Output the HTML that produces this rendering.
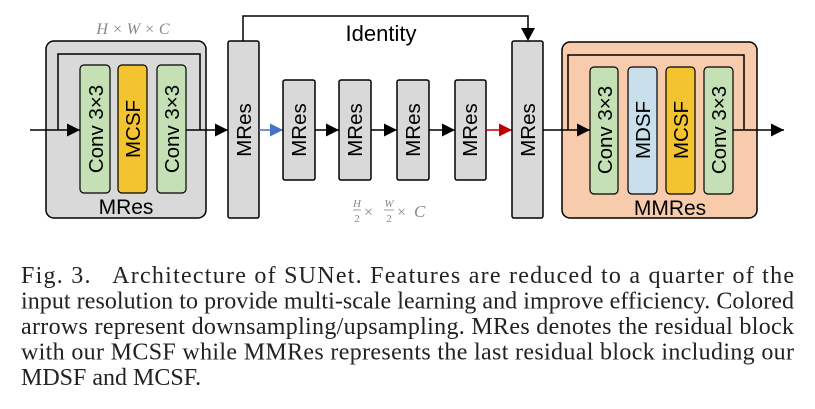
<!DOCTYPE html>
<html><head><meta charset="utf-8"><style>
html,body{margin:0;padding:0;background:#fff;}
body{width:815px;height:409px;position:relative;overflow:hidden;}
svg{position:absolute;left:0;top:0;}
</style></head><body>
<svg width="815" height="409" viewBox="0 0 815 409" font-family="Liberation Sans, sans-serif">
<defs>
<marker id="ab" markerWidth="14" markerHeight="14" refX="13" refY="6.5" orient="auto" markerUnits="userSpaceOnUse"><path d="M0,0 L13,6.5 L0,13z" fill="#000"/></marker>
<marker id="abl" markerWidth="14" markerHeight="14" refX="13" refY="6.5" orient="auto" markerUnits="userSpaceOnUse"><path d="M0,0 L13,6.5 L0,13z" fill="#4472c4"/></marker>
<marker id="ar" markerWidth="14" markerHeight="14" refX="13" refY="6.5" orient="auto" markerUnits="userSpaceOnUse"><path d="M0,0 L13,6.5 L0,13z" fill="#c00000"/></marker>
</defs>
<rect x="46" y="41" width="160" height="177" rx="8" fill="#d9d9d9" stroke="#000" stroke-width="1.5"/>
<polyline points="58,130 58,54 200,54 200,130" fill="none" stroke="#000" stroke-width="1.5"/>
<line x1="30" y1="130" x2="80" y2="130" stroke="#000" stroke-width="1.5" marker-end="url(#ab)"/>
<rect x="80" y="65" width="30" height="128" rx="4" fill="#c5e0b4" stroke="#000" stroke-width="1.2"/>
<rect x="118" y="65" width="29" height="128" rx="4" fill="#f4c430" stroke="#000" stroke-width="1.2"/>
<rect x="157" y="65" width="29" height="128" rx="4" fill="#c5e0b4" stroke="#000" stroke-width="1.2"/>
<g font-size="20.5" text-anchor="middle">
<text transform="translate(103,129) rotate(-90)">Conv 3×3</text>
<text transform="translate(140,129) rotate(-90)">MCSF</text>
<text transform="translate(179,129) rotate(-90)">Conv 3×3</text>
</g>
<text x="126" y="214" text-anchor="middle" font-size="21">MRes</text>
<line x1="186" y1="130" x2="228" y2="130" stroke="#000" stroke-width="1.5" marker-end="url(#ab)"/>
<text x="133" y="34" text-anchor="middle" font-size="16" font-style="italic" fill="#888" font-family="Liberation Serif, serif">H × W × C</text>
<rect x="228" y="41" width="31" height="177" rx="2" fill="#d9d9d9" stroke="#000" stroke-width="1.5"/>
<text transform="translate(251,130) rotate(-90)" text-anchor="middle" font-size="20.5">MRes</text>
<polyline points="243,41 243,16 528,16 528,30" fill="none" stroke="#000" stroke-width="1.5"/>
<path d="M521,28 L535,28 L528,41z" fill="#000"/>
<text x="381" y="41" text-anchor="middle" font-size="22">Identity</text>
<line x1="259" y1="130" x2="283" y2="130" stroke="#4472c4" stroke-width="1.5" marker-end="url(#abl)"/>
<g stroke="#000" stroke-width="1.5" fill="#d9d9d9">
<rect x="283" y="80" width="32" height="100" rx="2"/>
<rect x="339" y="80" width="32" height="100" rx="2"/>
<rect x="397" y="80" width="32" height="100" rx="2"/>
<rect x="455" y="80" width="31" height="100" rx="2"/>
</g>
<g font-size="20.5" text-anchor="middle">
<text transform="translate(306,130) rotate(-90)">MRes</text>
<text transform="translate(362,130) rotate(-90)">MRes</text>
<text transform="translate(420,130) rotate(-90)">MRes</text>
<text transform="translate(477,130) rotate(-90)">MRes</text>
</g>
<line x1="315" y1="130" x2="339" y2="130" stroke="#000" stroke-width="1.5" marker-end="url(#ab)"/>
<line x1="371" y1="130" x2="397" y2="130" stroke="#000" stroke-width="1.5" marker-end="url(#ab)"/>
<line x1="429" y1="130" x2="455" y2="130" stroke="#000" stroke-width="1.5" marker-end="url(#ab)"/>
<line x1="486" y1="130" x2="512" y2="130" stroke="#c00000" stroke-width="1.5" marker-end="url(#ar)"/>
<g fill="#888" font-family="Liberation Serif, serif" font-style="italic">
<text x="357" y="207" font-size="11" text-anchor="middle">H</text>
<line x1="353" y1="210" x2="361" y2="210" stroke="#888" stroke-width="0.8"/>
<text x="357" y="222" font-size="11" text-anchor="middle" font-style="normal">2</text>
<text x="364" y="217" font-size="16" font-style="normal">×</text>
<text x="389" y="207" font-size="11" text-anchor="middle">W</text>
<line x1="384" y1="210" x2="394" y2="210" stroke="#888" stroke-width="0.8"/>
<text x="389" y="222" font-size="11" text-anchor="middle" font-style="normal">2</text>
<text x="397" y="217" font-size="16" font-style="normal">×</text>
<text x="414" y="217" font-size="17">C</text>
</g>
<rect x="512" y="41" width="31" height="177" rx="2" fill="#d9d9d9" stroke="#000" stroke-width="1.5"/>
<text transform="translate(535,130) rotate(-90)" text-anchor="middle" font-size="20.5">MRes</text>
<rect x="562" y="42" width="195" height="176" rx="8" fill="#f8cbad" stroke="#000" stroke-width="1.5"/>
<polyline points="568,130 568,55 744,55 744,130" fill="none" stroke="#000" stroke-width="1.5"/>
<line x1="543" y1="130" x2="590" y2="130" stroke="#000" stroke-width="1.5" marker-end="url(#ab)"/>
<rect x="590" y="67" width="28" height="127" rx="4" fill="#c5e0b4" stroke="#000" stroke-width="1.2"/>
<rect x="628" y="67" width="29" height="127" rx="4" fill="#c9e0ec" stroke="#000" stroke-width="1.2"/>
<rect x="666" y="67" width="29" height="127" rx="4" fill="#f4c430" stroke="#000" stroke-width="1.2"/>
<rect x="704" y="67" width="29" height="127" rx="4" fill="#c5e0b4" stroke="#000" stroke-width="1.2"/>
<g font-size="20.5" text-anchor="middle">
<text transform="translate(612,130) rotate(-90)">Conv 3×3</text>
<text transform="translate(650,130) rotate(-90)">MDSF</text>
<text transform="translate(688,130) rotate(-90)">MCSF</text>
<text transform="translate(726,130) rotate(-90)">Conv 3×3</text>
</g>
<text x="670" y="215" text-anchor="middle" font-size="21">MMRes</text>
<line x1="733" y1="130" x2="784" y2="130" stroke="#000" stroke-width="1.5" marker-end="url(#ab)"/>
<g font-family="Liberation Serif, serif" font-size="24" fill="#222">
<text x="21" y="283" textLength="773" lengthAdjust="spacing" xml:space="preserve">Fig. 3.   Architecture of SUNet. Features are reduced to a quarter of the</text>
<text x="21" y="308.5" textLength="773" lengthAdjust="spacing">input resolution to provide multi-scale learning and improve efficiency. Colored</text>
<text x="21" y="334" textLength="773" lengthAdjust="spacing">arrows represent downsampling/upsampling. MRes denotes the residual block</text>
<text x="21" y="359.5" textLength="773" lengthAdjust="spacing">with our MCSF while MMRes represents the last residual block including our</text>
<text x="21" y="385">MDSF and MCSF.</text>
</g>
</svg>
</body></html>
